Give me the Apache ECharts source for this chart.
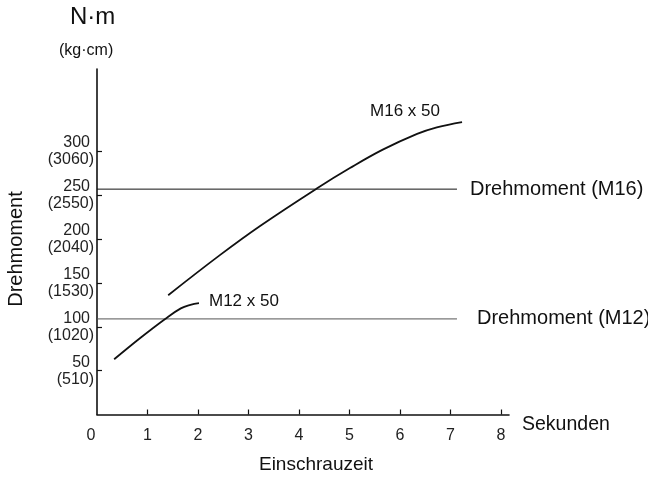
<!DOCTYPE html>
<html>
<head>
<meta charset="utf-8">
<script src="https://cdn.jsdelivr.net/npm/echarts@6/dist/echarts.min.js"></script>
<style>
  html, body { margin: 0; padding: 0; background: #fff; }
  #chart { width: 648px; height: 477px; }
</style>
</head>
<body>
<div id="chart"></div>
<script>
// Axis ticks
const timeTicks = [0, 1, 2, 3, 4, 5, 6, 7, 8];
const torqueTicksNm = [50, 100, 150, 200, 250, 300];
const torqueTicksKgcm = [510, 1020, 1530, 2040, 2550, 3060];

// Tightening curves (time in s, torque in N·m)
const m12Time = [0.34, 0.85, 1.35, 1.66, 1.85, 2.02];
const m12Torque = [63, 87, 109, 121, 125, 127];
const m16Time = [1.41, 2.44, 3.23, 4.36, 5.01, 5.66, 6.34, 6.73, 7.23];
const m16Torque = [136, 182, 215, 258, 281, 302, 320, 327.5, 333.5];

// Rated torque levels (N·m) drawn as horizontal references
const ratedM16 = 257;
const ratedM12 = 109;
const ratedLineEnd = 7.13;

const FONT = '"Liberation Sans", Arial, Helvetica, sans-serif';
const INK = '#111';

const pairs = (xs, ys) => xs.map((x, i) => [x, ys[i]]);

const chart = echarts.init(document.getElementById('chart'), null, { renderer: 'canvas' });

chart.setOption({
  animation: false,
  backgroundColor: '#fff',
  textStyle: { fontFamily: FONT, color: INK },
  grid: { left: 97, right: 139, top: 69, bottom: 62.5, containLabel: false, outerBoundsMode: 'none' },
  xAxis: {
    type: 'value',
    min: 0,
    max: 8.16,
    interval: 1,
    name: 'Sekunden',
    nameLocation: 'end',
    nameGap: 13,
    nameTextStyle: { fontSize: 19.5, color: INK, align: 'left', verticalAlign: 'top' },
    axisLine: { lineStyle: { color: INK, width: 1.6 } },
    axisTick: { inside: true, length: 5, lineStyle: { color: INK, width: 1.2 }, customValues: timeTicks.slice(1) },
    axisLabel: {
      customValues: timeTicks,
      margin: 13,
      fontSize: 16,
      color: '#222',
      formatter: v => (v === 0 ? '{z|0}' : String(v)),
      rich: { z: { fontSize: 16, color: '#222', padding: [0, 12, 0, 0] } }
    },
    splitLine: { show: false }
  },
  yAxis: {
    type: 'value',
    min: 0,
    max: 394,
    axisLine: { show: true, lineStyle: { color: INK, width: 1.6 } },
    axisTick: { show: true, inside: true, length: 5, lineStyle: { color: INK, width: 1.2 }, customValues: torqueTicksNm },
    axisLabel: {
      customValues: torqueTicksNm,
      margin: 3,
      align: 'right',
      formatter: v => {
        const i = torqueTicksNm.indexOf(v);
        return '{a|' + v + '}\n{b|(' + torqueTicksKgcm[i] + ')}';
      },
      rich: {
        a: { fontSize: 16, color: '#222', lineHeight: 17, padding: [0, 4, 0, 0] },
        b: { fontSize: 16, color: '#222', lineHeight: 17 }
      }
    },
    splitLine: { show: false }
  },
  series: [
    {
      name: 'Drehmoment (M16)',
      type: 'line',
      data: [[0, ratedM16], [ratedLineEnd, ratedM16]],
      showSymbol: false,
      lineStyle: { color: '#111', width: 1 },
      endLabel: { show: true, formatter: '{a}', distance: 13, fontSize: 20, color: INK, fontFamily: FONT }
    },
    {
      name: 'Drehmoment (M12)',
      type: 'line',
      data: [[0, ratedM12], [ratedLineEnd, ratedM12]],
      showSymbol: false,
      lineStyle: { color: '#555', width: 1 },
      endLabel: { show: true, formatter: '{a}', distance: 20, fontSize: 20, color: INK, fontFamily: FONT }
    },
    {
      name: 'M12 x 50',
      type: 'line',
      smooth: 0.4,
      data: pairs(m12Time, m12Torque),
      showSymbol: false,
      lineStyle: { color: INK, width: 1.8 },
      endLabel: { show: true, formatter: '{a}', distance: 10, fontSize: 17, color: INK, fontFamily: FONT, offset: [0, -2] }
    },
    {
      name: 'M16 x 50',
      type: 'line',
      smooth: 0.4,
      data: pairs(m16Time, m16Torque),
      showSymbol: false,
      lineStyle: { color: INK, width: 1.8 },
      endLabel: { show: true, formatter: '{a}', distance: 5, offset: [-97, -11], fontSize: 17, color: INK, fontFamily: FONT }
    }
  ],
  graphic: [
    { type: 'text', left: 70, top: 5, style: { text: 'N·m', font: '24px ' + FONT, fill: INK } },
    { type: 'text', left: 59, top: 43, style: { text: '(kg·cm)', font: '16px ' + FONT, fill: INK } },
    {
      type: 'text', x: 16, y: 249, rotation: Math.PI / 2,
      style: { text: 'Drehmoment', font: '20px ' + FONT, fill: INK, textAlign: 'center', textVerticalAlign: 'middle' }
    },
    {
      type: 'text', x: 316, y: 465,
      style: { text: 'Einschrauzeit', font: '19px ' + FONT, fill: INK, textAlign: 'center', textVerticalAlign: 'middle' }
    }
  ]
});
</script>
</body>
</html>
